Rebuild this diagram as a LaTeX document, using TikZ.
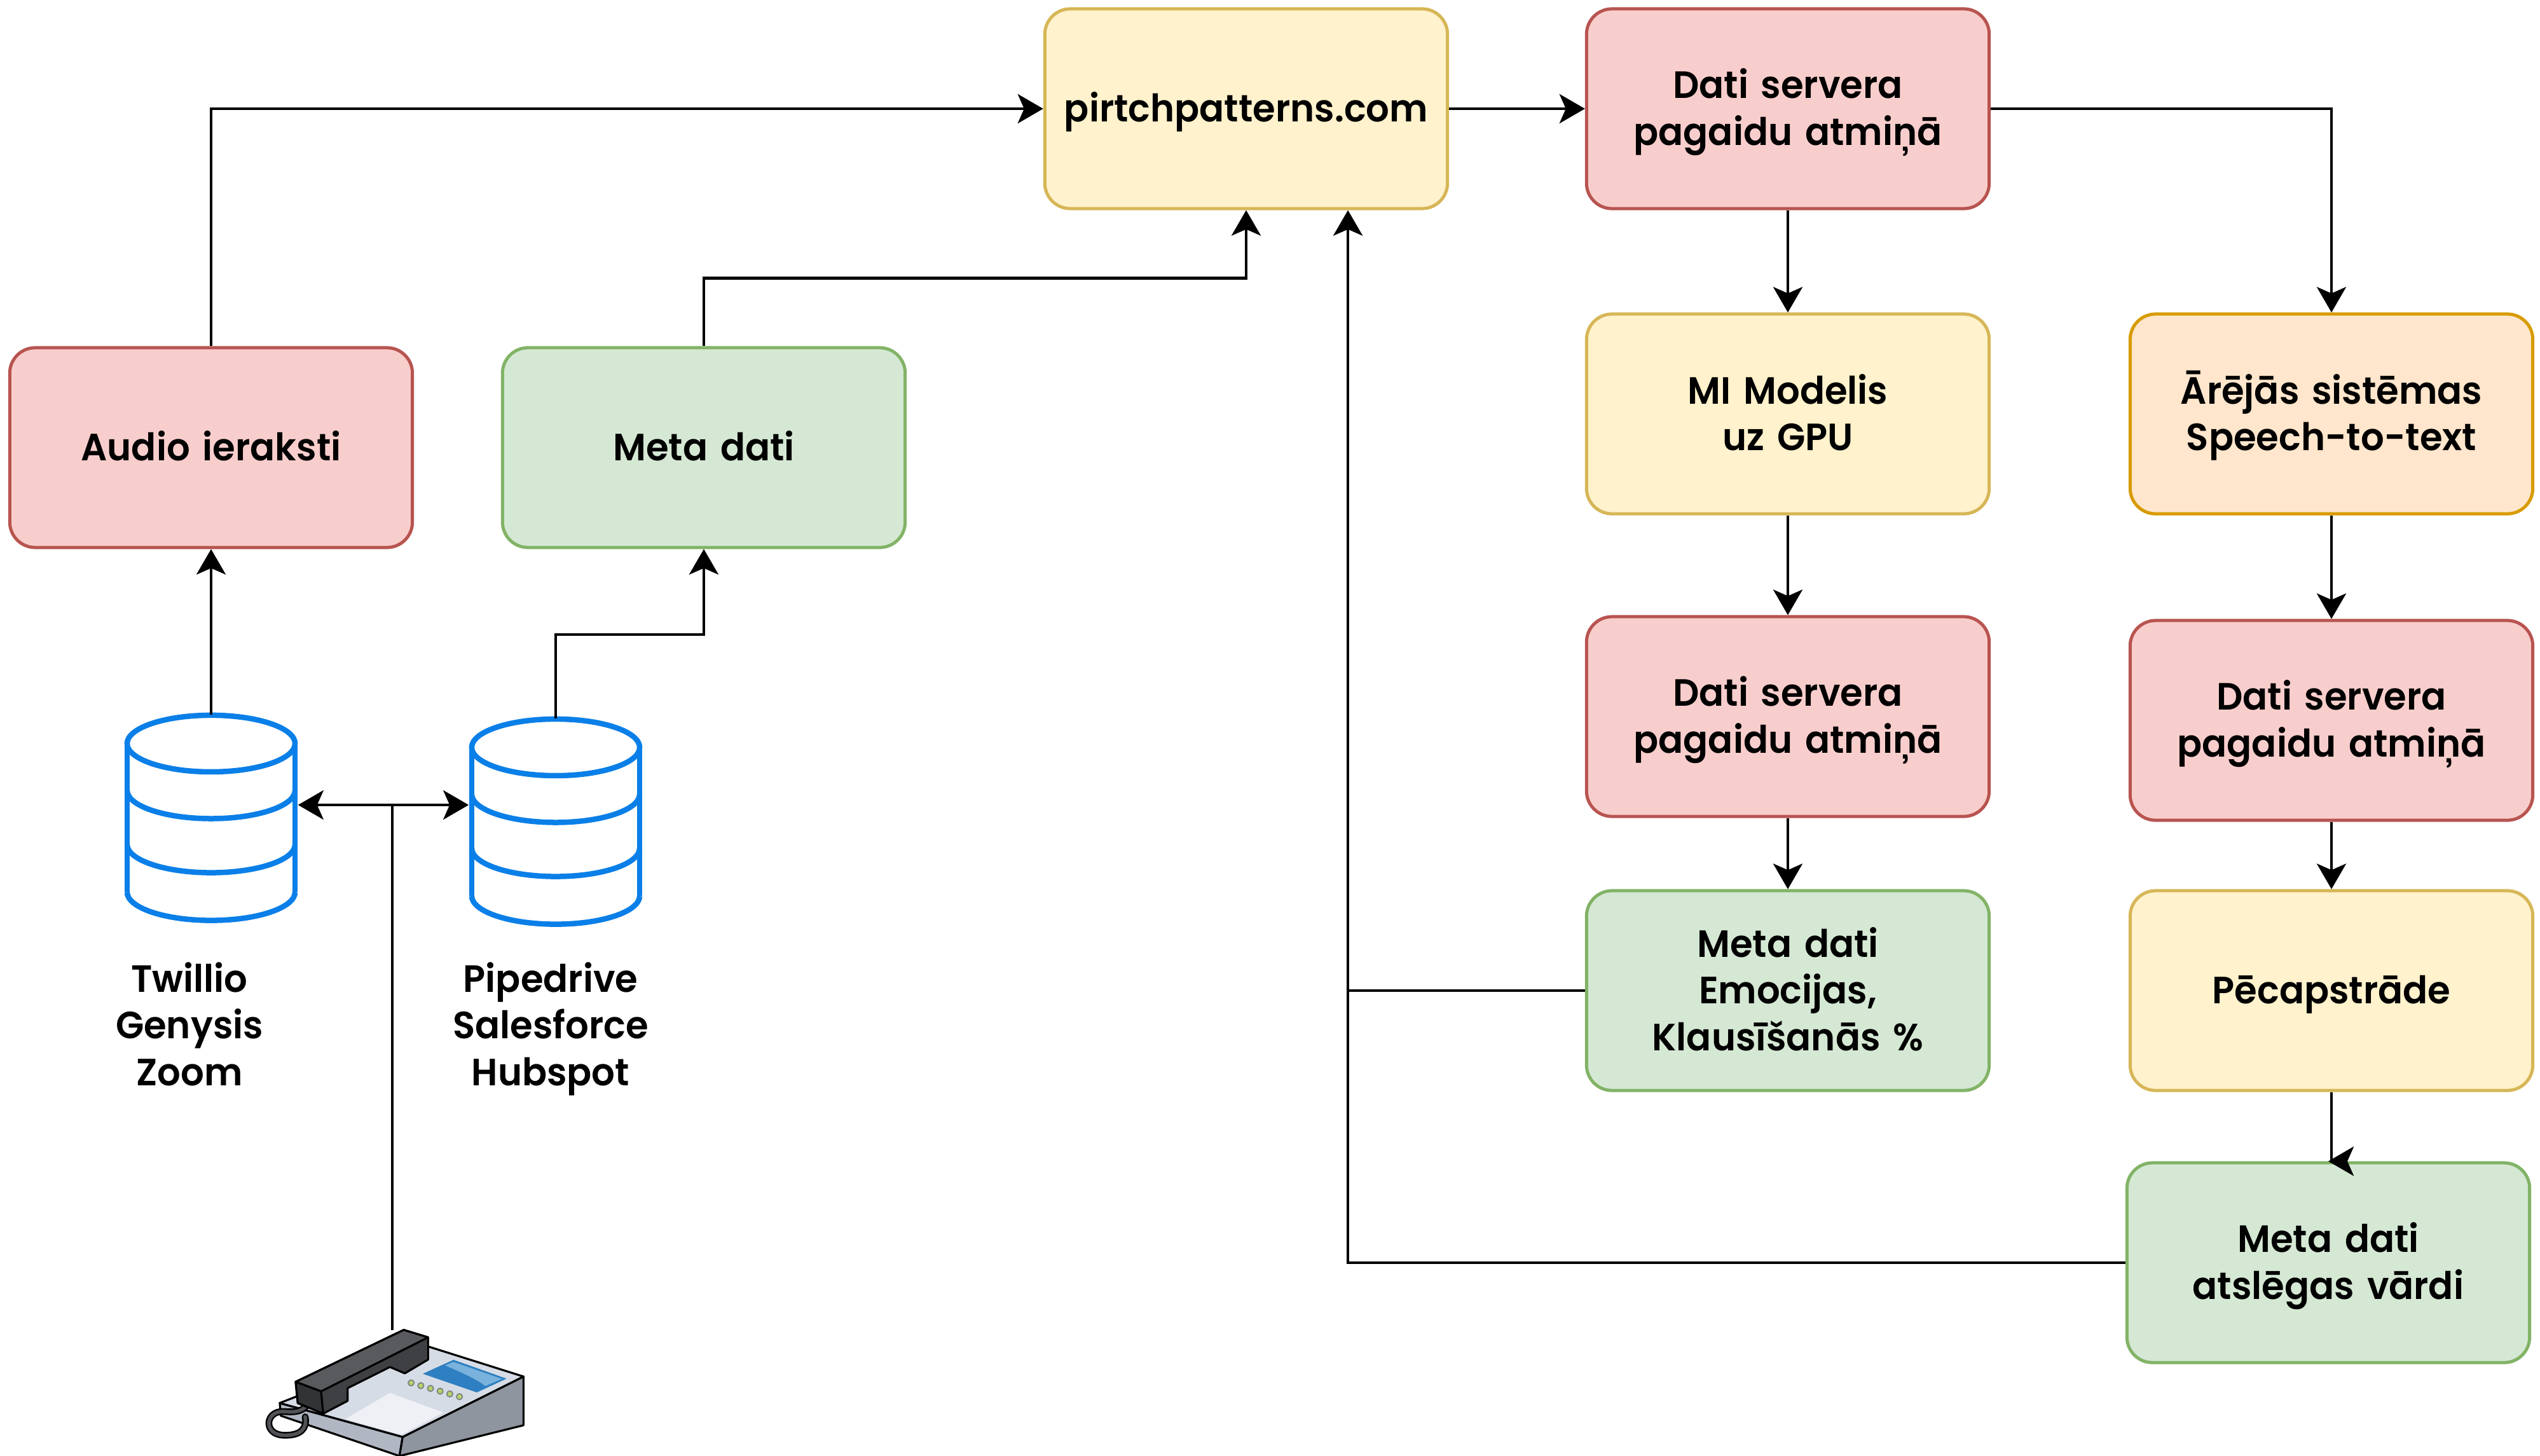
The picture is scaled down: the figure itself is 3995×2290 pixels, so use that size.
\documentclass[tikz,border=0pt]{standalone}
\usepackage{fontspec}
\setmainfont{Poppins}[UprightFont={* SemiBold}, FakeStretch=0.965]
\usetikzlibrary{arrows.meta}

\definecolor{yfill}{HTML}{FFF2CC}
\definecolor{yline}{HTML}{D6B656}
\definecolor{rfill}{HTML}{F8CECC}
\definecolor{rline}{HTML}{B85450}
\definecolor{gfill}{HTML}{D5E8D4}
\definecolor{gline}{HTML}{82B366}
\definecolor{ofill}{HTML}{FFE6CC}
\definecolor{oline}{HTML}{D79B00}
\definecolor{dbblue}{HTML}{0A7FE8}
% phone colours
\definecolor{phleft}{RGB}{176,183,195}
\definecolor{phright}{RGB}{142,149,159}
\definecolor{phtop}{RGB}{214,220,230}
\definecolor{phpaper}{RGB}{238,240,245}
\definecolor{phscreen}{RGB}{45,127,193}
\definecolor{phglare}{RGB}{121,178,221}
\definecolor{phkey}{RGB}{181,211,107}
\definecolor{phcord}{RGB}{80,82,86}
\definecolor{phbody}{RGB}{62,64,67}
\definecolor{phlid}{RGB}{88,90,94}
\definecolor{phend}{RGB}{50,51,53}

% one line box (21pt) for every label, accents or not, centred on the caps
\newcommand{\linestrut}{\rule[-0.267em]{0pt}{1.234em}}

\tikzset{
  lbl/.style={align=center, text width=4cm, font=\fontsize{17pt}{21pt}\selectfont,
    execute at begin node=\linestrut, execute at end node=\linestrut},
  box/.style={lbl, text width=5.9cm, draw, rounded corners=0.4cm, line width=0.05cm,
    minimum width=6.33cm, minimum height=3.14cm},
  ybox/.style={box, fill=yfill, draw=yline},
  rbox/.style={box, fill=rfill, draw=rline},
  gbox/.style={box, fill=gfill, draw=gline},
  obox/.style={box, fill=ofill, draw=oline},
  db/.style={minimum width=2.72cm, minimum height=3.22cm, inner sep=0pt},
  dbline/.style={line width=0.085cm, draw=dbblue},
  wire/.style={line width=0.045cm},
  arr/.style={wire, -{Stealth[length=0.4cm, width=0.46cm, inset=0.1cm]}}
}

% database icon around a named node
\newcommand{\dbicon}[1]{%
  \draw[dbline] ([yshift=1.165cm]#1.center) ellipse [x radius=1.32cm, y radius=0.445cm];
  \foreach \dy in {0.43,-0.42,-1.17}
    \draw[dbline] ([shift={(-1.32cm,\dy cm)}]#1.center)
      arc [start angle=180, end angle=360, x radius=1.32cm, y radius=0.445cm];
  \draw[dbline] ([shift={(-1.32cm,1.165cm)}]#1.center) -- ([shift={(-1.32cm,-1.17cm)}]#1.center);
  \draw[dbline] ([shift={(1.32cm,1.165cm)}]#1.center) -- ([shift={(1.32cm,-1.17cm)}]#1.center);
}

\begin{document}
\begin{tikzpicture}[x=0.01cm, y=-0.01cm]
    \useasboundingbox (0,0) rectangle (3995,2290);

    %Web
    \node [ybox] (web) at (1960,171) {pirtchpatterns.com};
    %Server memory
    \node [rbox] (srv1) at (2812,171) {Dati servera\\pagaidu atmiņā};
    %Sources
    \node [rbox] (audio) at (332,704) {Audio ieraksti};
    \node [gbox] (meta) at (1107,704) {Meta dati};
    %Model branch
    \node [ybox] (model) at (2812,651) {MI Modelis\\uz GPU};
    \node [rbox] (srv2) at (2812,1127) {Dati servera\\pagaidu atmiņā};
    \node [gbox] (emo) at (2812,1558) {Meta dati\\Emocijas,\\Klausīšanās \%};
    %Speech branch
    \node [obox] (stt) at (3667,651) {Ārējās sistēmas\\Speech-to-text};
    \node [rbox] (srv3) at (3667,1133) {Dati servera\\pagaidu atmiņā};
    \node [ybox] (post) at (3667,1558) {Pēcapstrāde};
    \node [gbox] (keys) at (3662,1986) {Meta dati\\atslēgas vārdi};

    %Databases
    \node [db] (twdb) at (332,1286) {};
    \node [db] (pdb) at (874,1292) {};
    \dbicon{twdb}
    \dbicon{pdb}
    \node [lbl] (twlbl) at (298,1613) {Twillio\\Genysis\\Zoom};
    \node [lbl] (plbl) at (866,1613) {Pipedrive\\Salesforce\\Hubspot};

    %Phone
    \begin{scope}[shift={(380,2060)}, scale=1/3, line width=0.9pt, line join=round]
        \draw [fill=phleft] (180,440) -- (760,600) -- (745,690) -- (185,500) -- cycle;
        \draw [fill=phright] (760,600) -- (1330,315) -- (1330,545) -- (745,690) -- cycle;
        \draw [fill=phtop] (180,440) -- (870,170) -- (1330,315) -- (760,600) -- cycle;
        \fill [phpaper] (490,515) -- (700,392) -- (952,485) -- (752,590) -- cycle;
        \fill [phscreen] (855,302) -- (1000,236) -- (1250,325) -- (1110,390) -- cycle;
        \fill [phglare] (960,262) -- (1000,246) -- (1228,326) -- (1150,360) .. controls (1100,320) and (1020,290) .. cycle;
        \foreach \i in {0,...,5}
            \draw [fill=phkey, draw=gray, line width=0.5pt] (800+45.6*\i,345+13*\i) circle (14);
        % cord
        \draw [line width=3pt, line cap=round] (322,425) .. controls (300,480) and (260,485) .. (200,480)
            .. controls (110,475) and (100,590) .. (200,592) .. controls (280,594) and (310,560) .. (300,505);
        \draw [line width=1.6pt, line cap=round, phcord] (322,425) .. controls (300,480) and (260,485) .. (200,480)
            .. controls (110,475) and (100,590) .. (200,592) .. controls (280,594) and (310,560) .. (300,505);
        % handset
        \draw [fill=phbody] (255,340) -- (765,95) -- (880,130) -- (880,235) -- (770,300)
            -- (700,270) -- (500,370) -- (500,430) -- (385,490) -- (265,440) -- cycle;
        \draw [fill=phlid] (255,340) -- (765,95) -- (880,130) -- (375,385) -- cycle;
        \draw [fill=phend] (255,340) -- (375,385) -- (385,490) -- (265,440) -- cycle;
    \end{scope}
    \coordinate (phone) at (617,2092);
    \coordinate (split) at (617,1266);

    %Connectors
    \draw [arr] (audio.north) |- (web.west);
    \draw [arr] (meta.north) -- ++(0,-107) -| (web.south);
    \draw [arr] (twdb.north) -- (audio.south);
    \draw [arr] (pdb.north) -- ++(0,-132) -| (meta.south);
    \draw [wire] (phone) -- (split);
    \draw [arr] (split) -- (split -| twdb.east);
    \draw [arr] (split) -- (split -| pdb.west);
    \draw [arr] (web.east) -- (srv1.west);
    \draw [arr] (srv1.east) -| (stt.north);
    \draw [arr] (srv1) -- (model);
    \draw [arr] (model) -- (srv2);
    \draw [arr] (srv2) -- (emo);
    \draw [arr] (stt) -- (srv3);
    \draw [arr] (srv3) -- (post);
    \draw [arr] (post.south) |- (keys.north);
    \coordinate (back) at ([xshift=1.6cm]web.south);
    \draw [arr] (keys.west) -| (back);
    \draw [wire] (emo.west) -- (emo.west -| back);

\end{tikzpicture}
\end{document}
